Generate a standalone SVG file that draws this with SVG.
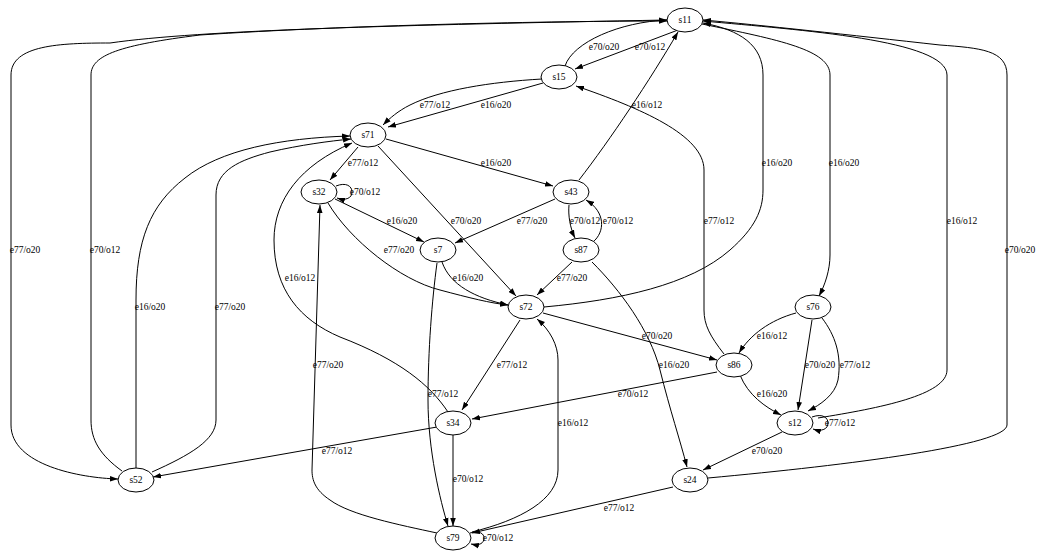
<svg xmlns="http://www.w3.org/2000/svg" width="1043" height="551" viewBox="0 0 1043 551">
<style>
.n ellipse{fill:#fff;stroke:#000;stroke-width:1}
.n text,.lb{font-family:"Liberation Serif","Times New Roman",serif;font-size:9.5px;fill:#000;text-anchor:middle;dominant-baseline:central}
.e path{fill:none;stroke:#000;stroke-width:1;marker-end:url(#ah)}
</style>
<defs>
<marker id="ah" viewBox="0 0 10 7" refX="10" refY="3.5" markerWidth="8" markerHeight="6" markerUnits="userSpaceOnUse" orient="auto"><path d="M0,0 L10,3.5 L0,7 z" fill="#000"/></marker>
</defs>
<rect width="1043" height="551" fill="#fff"/>
<g class="e" id="edges">
<path d="M678,30 L575,69"/>
<path d="M565,66 C573,42 620,22 667,20"/>
<path d="M542,79 C490,82 440,90 410,105 C398,111 390,118 383,125"/>
<path d="M543,83 L388,127"/>
<path d="M579,180 C610,140 650,80 678,32"/>
<path d="M724,354 C710,336 704,325 704,310 L704,170 C704,135 640,108 576,86"/>
<path d="M544,307 C620,300 690,285 730,250 C755,228 763,210 763,190 L763,75 C763,45 740,30 703,23"/>
<path d="M702,24 C780,40 830,50 830,75 L830,255 C830,270 825,285 819,296"/>
<path d="M818,418 C880,408 947,395 947,370 L947,75 C947,40 800,30 703,21"/>
<path d="M708,478 C850,465 1007,445 1007,425 L1007,75 C1007,50 980,48 940,45 C850,35 760,25 703,20"/>
<path d="M667,20 C400,25 200,30 110,43 C60,43 11,45 11,75 L11,425 C11,465 80,478 118,479"/>
<path d="M122,471 C100,455 91,440 91,420 L91,75 C91,55 120,45 200,35 C350,25 550,21 667,21"/>
<path d="M136,468 L136,300 C136,240 150,205 185,178 C220,150 280,138 350,136"/>
<path d="M152,472 C190,455 216,440 216,420 L216,195 C216,170 240,160 270,152 C300,145 330,141 351,139"/>
<path d="M358,147 L330,180"/>
<path d="M336,186 C346,182 352,186 352,192 C352,198 346,201 337,198"/>
<path d="M386,139 L553,186"/>
<path d="M378,146 L516,296"/>
<path d="M335,199 L424,242"/>
<path d="M328,203 C350,240 400,280 440,290 C470,298 490,303 508,305"/>
<path d="M555,199 L455,243"/>
<path d="M569,205 C568,215 570,228 575,238"/>
<path d="M593,242 C605,232 606,212 586,200"/>
<path d="M442,262 C450,285 475,298 508,305"/>
<path d="M572,262 L537,295"/>
<path d="M448,412 C430,385 400,360 340,337 C300,320 274,290 274,240 C274,200 300,165 352,143"/>
<path d="M437,533 C400,525 350,515 330,500 C315,490 312,480 312,470 L320,205"/>
<path d="M543,313 L717,360"/>
<path d="M592,262 C620,290 650,330 660,370 C670,410 680,440 687,467"/>
<path d="M520,320 L462,410"/>
<path d="M437,263 C432,300 428,350 428,400 C428,450 440,500 448,526"/>
<path d="M472,532 C520,520 558,500 558,470 L558,360 C558,345 550,330 537,319"/>
<path d="M717,372 L472,419"/>
<path d="M796,313 C770,320 750,335 739,353"/>
<path d="M812,320 L798,410"/>
<path d="M822,318 C835,335 842,355 838,380 C835,395 820,405 808,411"/>
<path d="M740,375 C748,395 765,407 781,415"/>
<path d="M812,417 C823,413 828,418 828,423 C828,429 822,432 813,429"/>
<path d="M782,432 L703,470"/>
<path d="M437,427 L153,477"/>
<path d="M453,435 L453,526"/>
<path d="M673,487 L472,533"/>
<path d="M470,533 C480,530 484,534 484,538 C484,543 480,546 471,544"/>
</g>
<g id="labels">
<text class="lb" x="650" y="47">e70/o12</text>
<text class="lb" x="604" y="47">e70/o20</text>
<text class="lb" x="435" y="105">e77/o12</text>
<text class="lb" x="496" y="105">e16/o20</text>
<text class="lb" x="647" y="105">e16/o12</text>
<text class="lb" x="719" y="221">e77/o12</text>
<text class="lb" x="777" y="163">e16/o20</text>
<text class="lb" x="844" y="163">e16/o20</text>
<text class="lb" x="962" y="221">e16/o12</text>
<text class="lb" x="1020" y="250">e70/o20</text>
<text class="lb" x="25" y="250">e77/o20</text>
<text class="lb" x="105" y="250">e70/o12</text>
<text class="lb" x="150" y="307">e16/o20</text>
<text class="lb" x="230" y="307">e77/o20</text>
<text class="lb" x="363" y="163">e77/o12</text>
<text class="lb" x="365" y="192">e70/o12</text>
<text class="lb" x="496" y="163">e16/o20</text>
<text class="lb" x="466" y="221">e70/o20</text>
<text class="lb" x="402" y="221">e16/o20</text>
<text class="lb" x="399" y="250">e77/o20</text>
<text class="lb" x="532" y="221">e77/o20</text>
<text class="lb" x="585" y="221">e70/o12</text>
<text class="lb" x="618" y="221">e70/o12</text>
<text class="lb" x="468" y="278">e16/o20</text>
<text class="lb" x="572" y="278">e77/o20</text>
<text class="lb" x="300" y="278">e16/o12</text>
<text class="lb" x="328" y="365">e77/o20</text>
<text class="lb" x="657" y="336">e70/o20</text>
<text class="lb" x="674" y="365">e16/o20</text>
<text class="lb" x="512" y="365">e77/o12</text>
<text class="lb" x="443" y="394">e77/o12</text>
<text class="lb" x="573" y="423">e16/o12</text>
<text class="lb" x="633" y="394">e70/o12</text>
<text class="lb" x="772" y="336">e16/o12</text>
<text class="lb" x="820" y="365">e70/o20</text>
<text class="lb" x="855" y="365">e77/o12</text>
<text class="lb" x="772" y="394">e16/o20</text>
<text class="lb" x="840" y="423">e77/o12</text>
<text class="lb" x="767" y="451">e70/o20</text>
<text class="lb" x="337" y="451">e77/o12</text>
<text class="lb" x="468" y="479">e70/o12</text>
<text class="lb" x="619" y="508">e77/o12</text>
<text class="lb" x="498" y="538">e70/o12</text>
</g>
<g class="n" id="s11"><ellipse cx="685" cy="20" rx="18" ry="12"/><text x="685" y="20">s11</text></g>
<g class="n" id="s15"><ellipse cx="559" cy="77" rx="18" ry="12"/><text x="559" y="77">s15</text></g>
<g class="n" id="s71"><ellipse cx="368" cy="135" rx="18" ry="12"/><text x="368" y="135">s71</text></g>
<g class="n" id="s32"><ellipse cx="319" cy="192" rx="18" ry="12"/><text x="319" y="192">s32</text></g>
<g class="n" id="s43"><ellipse cx="571" cy="192" rx="18" ry="12"/><text x="571" y="192">s43</text></g>
<g class="n" id="s7"><ellipse cx="438" cy="250" rx="18" ry="12"/><text x="438" y="250">s7</text></g>
<g class="n" id="s87"><ellipse cx="581" cy="250" rx="18" ry="12"/><text x="581" y="250">s87</text></g>
<g class="n" id="s72"><ellipse cx="526" cy="307" rx="18" ry="12"/><text x="526" y="307">s72</text></g>
<g class="n" id="s76"><ellipse cx="813" cy="307" rx="18" ry="12"/><text x="813" y="307">s76</text></g>
<g class="n" id="s86"><ellipse cx="734" cy="365" rx="18" ry="12"/><text x="734" y="365">s86</text></g>
<g class="n" id="s34"><ellipse cx="453" cy="423" rx="18" ry="12"/><text x="453" y="423">s34</text></g>
<g class="n" id="s12"><ellipse cx="795" cy="423" rx="18" ry="12"/><text x="795" y="423">s12</text></g>
<g class="n" id="s52"><ellipse cx="136" cy="480" rx="18" ry="12"/><text x="136" y="480">s52</text></g>
<g class="n" id="s24"><ellipse cx="690" cy="480" rx="18" ry="12"/><text x="690" y="480">s24</text></g>
<g class="n" id="s79"><ellipse cx="453" cy="538" rx="18" ry="12"/><text x="453" y="538">s79</text></g>
</svg>
